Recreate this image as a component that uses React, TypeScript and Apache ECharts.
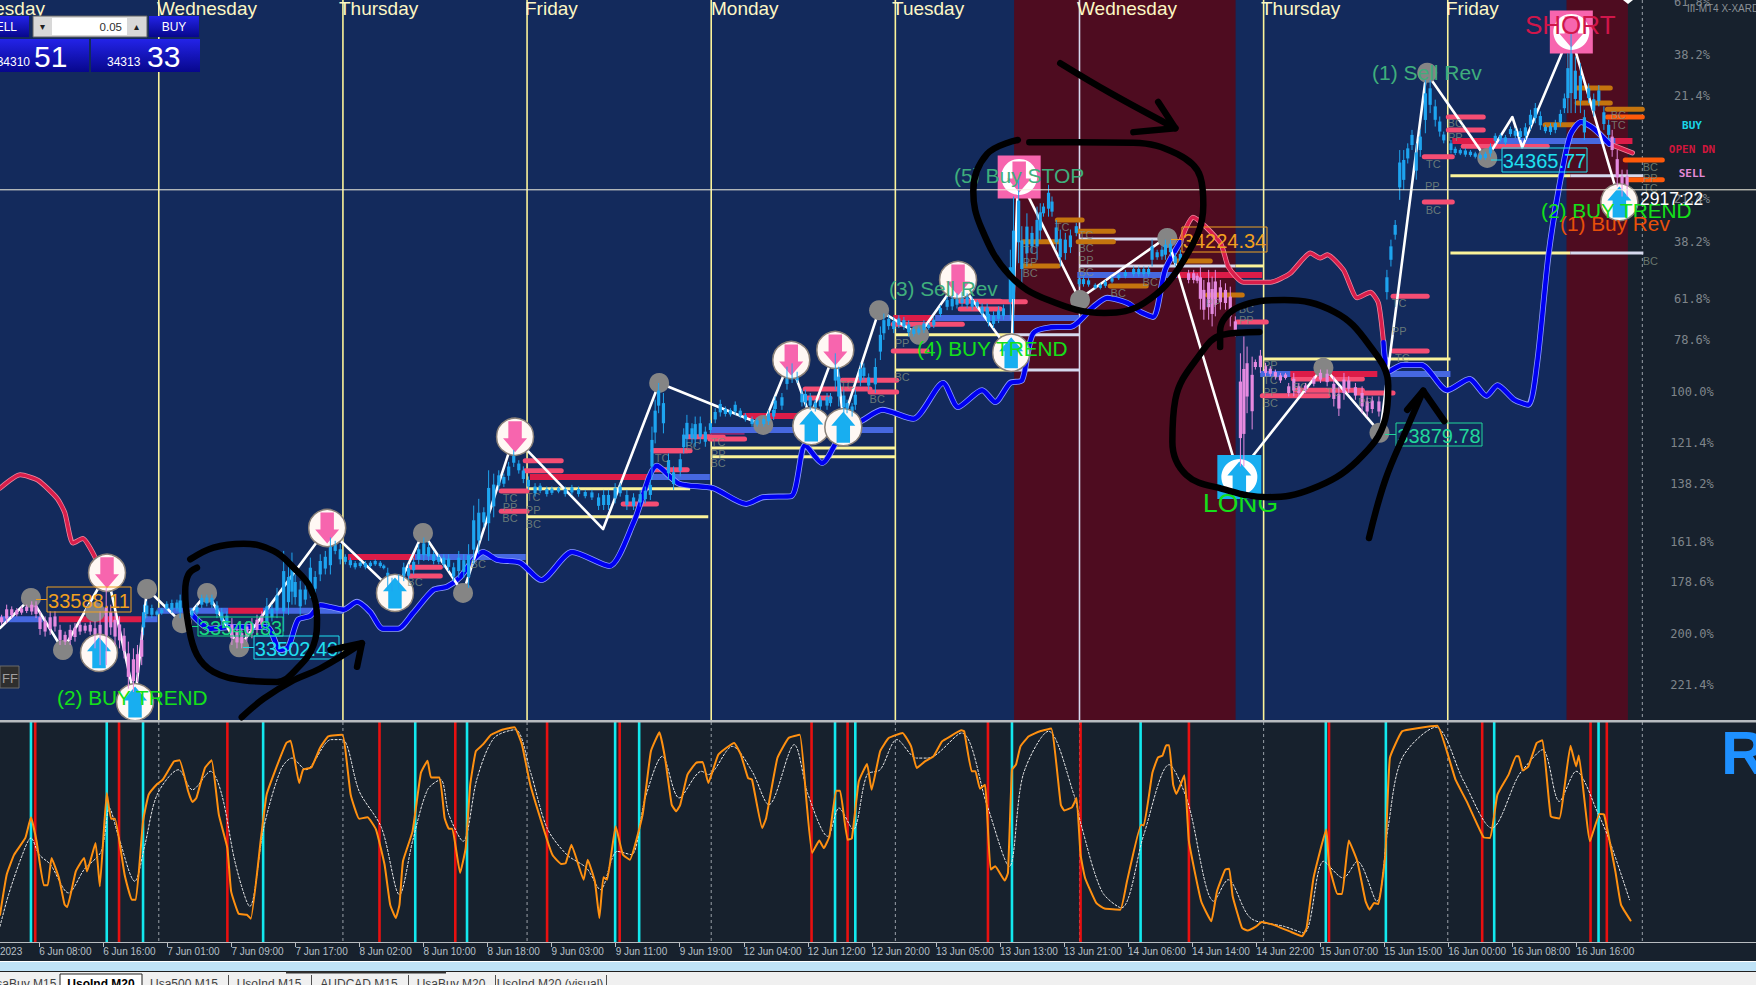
import React, { useEffect, useRef } from "react";
import * as echarts from "echarts";

type P = [number, number];
type Seg = [number, number, number];
type Cdl = [number, number, number];

const dayBars = [59.5, 128.5, 197.5, 266.5, 335.5, 404.5, 473.5, 542.5];
const endBar = 615.4;
const blueZone: P[] = [[0, 610]];
const redZones: P[] = [[380, 463], [587, 610]];
const crossPrice = 34321;

const dayNames = ["Tuesday", "Wednesday", "Thursday", "Friday", "Monday", "Tuesday", "Wednesday", "Thursday", "Friday"];

const redMaA: P[] = [[0, 33788], [7.6, 33812], [14.3, 33802], [21.4, 33770], [24.3, 33744], [27.3, 33690], [31, 33698], [35.7, 33664]];
const redMaB: P[] = [[442.3, 34228], [447, 34272], [457.3, 34226], [460.3, 34183], [465.9, 34156], [476, 34156], [483.5, 34172], [491, 34208], [494.7, 34199], [497.3, 34205], [503.4, 34178], [508.6, 34128], [513.5, 34138], [516.5, 34119], [518.4, 34049]];
const redMaC: P[] = [[603, 34403], [611.7, 34387]];
const blueMaA: P[] = [[72, 33562], [78.7, 33537], [86.2, 33540], [100, 33540], [105, 33499], [108, 33504], [111.7, 33553], [116.2, 33560], [120, 33579], [123.7, 33576], [128.6, 33571], [133.8, 33585], [138.7, 33567], [143.5, 33537], [149.2, 33537], [154.8, 33565], [162.3, 33606], [167.5, 33612], [172.4, 33629], [177.3, 33660], [181, 33674], [186.3, 33660], [194.9, 33655], [202.8, 33624], [214.4, 33674], [228.3, 33649], [237.6, 33729], [246.2, 33828], [254.5, 33796], [267.2, 33788], [279.6, 33760], [286, 33772], [296.5, 33774], [301.7, 33865], [308, 33833], [315.6, 33887], [323.5, 33910], [330.6, 33928], [342.2, 33912], [353.4, 33976], [359, 33933], [368, 33963], [372.9, 33942], [378.5, 33976], [383, 33981], [387.2, 34065], [396.2, 34076], [401, 34076], [409.7, 34112], [414.9, 34128], [422.4, 34119], [427.3, 34103], [432.1, 34094], [436.6, 34178], [442.3, 34228]];
const blueMaB: P[] = [[518.4, 34049], [520.2, 33996], [525.5, 34008], [532.6, 34008], [542.3, 33963], [550.6, 33983], [557, 33953], [561.1, 33972], [567.4, 33946], [572.7, 33937], [576, 34012], [580.2, 34203], [584.3, 34328], [588.4, 34419], [592.5, 34442], [597, 34431], [603, 34403]];

const zigzag: P[] = [[0, 33538], [11.6, 33592], [23.6, 33499], [40.1, 33637], [50.6, 33410], [55.1, 33608], [68.2, 33547], [77.6, 33601], [89.6, 33504], [122.6, 33717], [148, 33601], [158.5, 33708], [173.5, 33601], [192.6, 33880], [226, 33715], [247, 33976], [286, 33901], [296, 34017], [303.6, 33915], [313, 34035], [316, 33910], [329.4, 34106], [344.4, 34062], [359, 34160], [379, 34028], [381.5, 34346], [404.4, 34126], [437.4, 34237], [464, 33813], [495.9, 34005], [517.2, 33887], [520, 33994], [534.5, 34530], [557, 34376], [566.7, 34451], [570.4, 34397], [588.4, 34601], [606.4, 34308]];
const greyPivots: P[] = [[11.6, 33592], [23.6, 33499], [35.6, 33567], [55.1, 33608], [68.2, 33547], [77.6, 33601], [89.6, 33504], [158.5, 33708], [173.5, 33601], [247, 33976], [286, 33901], [329.4, 34106], [344.4, 34062], [404.7, 34124], [437.4, 34235], [495.9, 34003], [516.9, 33887], [534.8, 34530], [557.3, 34378]];
const sellRound: P[] = [[40.1, 33637], [122.6, 33717], [193, 33880], [296.5, 34017], [313, 34035], [359, 34160]];
const buyRound: P[] = [[37.1, 33494], [50.6, 33406], [148, 33601], [304, 33899], [316, 33897], [378.9, 34030], [606.8, 34299]];
const sellSquare: P[] = [[381.9, 34344], [588.8, 34603]];
const buySquare: P[] = [[464.4, 33808]];

const crimsonLevels: Seg[] = [[22, 53, 33554], [85.5, 98.6, 33569], [130.4, 155.5, 33665], [198.6, 242.9, 33808], [278.5, 299.8, 33917], [334.7, 349.7, 34092], [408.5, 473, 34169], [482.7, 516.1, 33992], [544.2, 561, 34408], [561, 611.7, 34408]];
const blueLevels: Seg[] = [[0, 16, 33554], [54, 59, 33554], [59, 85.5, 33569], [98.6, 128.6, 33569], [155.5, 197, 33665], [242.9, 266, 33808], [266, 334.7, 33892], [350.4, 404.4, 34092], [403.7, 441.1, 34169], [472.2, 483.5, 33992], [520.2, 543.5, 33992], [561, 605.3, 34408]];
const pinkLevels: Seg[] = [[153.7, 165, 33647], [153.7, 165, 33631], [187.8, 197.5, 33783], [187.8, 197.5, 33747], [196.8, 210.3, 33837], [196.8, 210.3, 33819], [245, 257.5, 33855], [245, 257.5, 33821], [233.5, 246, 33760], [257.5, 271, 33880], [244.7, 258.6, 33855], [266, 279, 33876], [301.7, 326, 33965], [301.7, 311, 33949], [315.6, 336, 33981], [326, 336, 33960], [334.7, 360.6, 34081], [334.7, 347.4, 34033], [359.8, 374.8, 34108], [359.8, 374.8, 34122], [367.3, 384.2, 34121], [463.6, 474.5, 34085], [484.6, 510.5, 33983], [485.4, 510.5, 33963], [473, 497.7, 33953], [508.6, 522, 33958], [522, 534.8, 34131], [522, 534.8, 34033], [533.7, 544.2, 34380], [533.7, 544.2, 34299], [542.7, 555.8, 34451], [542.7, 555.8, 34428], [548.3, 579.8, 34399]];
const darkPink: Seg[] = [[266, 279, 33887]];
const orangeLevels: Seg[] = [[396.2, 405.5, 34267], [383.4, 396.5, 34228], [383.4, 396.5, 34185], [404, 417.2, 34247], [404, 417.2, 34228], [416, 429.5, 34149], [441.1, 453.5, 34194], [452.4, 465.5, 34133], [579, 591, 34437], [591, 603.4, 34503], [591, 603.4, 34476], [602.3, 615.4, 34465]];
const hotOrange: Seg[] = [[602.3, 615.4, 34451], [609, 622.9, 34374], [610.2, 622.9, 34339]];
const yellowLevels: Seg[] = [[197.5, 258.6, 33787], [197.5, 265.4, 33737], [266.5, 335.4, 33860], [266.5, 335.4, 33844], [335.4, 380, 34062], [335.4, 380, 33999], [473.5, 543.5, 34019], [462.9, 473.5, 34185], [543.5, 588.4, 34346], [543.5, 588.4, 34208]];
const paleLevels: Seg[] = [[380, 404.4, 34062], [380, 404.4, 33999], [404.4, 441.1, 34233], [404.4, 462.9, 34185], [588.4, 615.8, 34346], [588.4, 615.8, 34208]];

const upCandles: Cdl[] = [
  [53.8, 33526, 33580], [55, 33556, 33586], [56.9, 33556, 33580], [58.8, 33559, 33571], [60.6, 33562, 33574], [62.5, 33568, 33586], [64.4, 33565, 33589], [66.3, 33568, 33589], [67.5, 33556, 33598], [71.9, 33556, 33574], [73.8, 33562, 33580], [75.6, 33574, 33598], [77.5, 33577, 33598], [79.4, 33574, 33598], [81.3, 33556, 33586], [83.1, 33544, 33574], [85, 33538, 33568],
  [100, 33532, 33592], [101.9, 33550, 33580], [103.8, 33556, 33610], [106.3, 33532, 33676], [108.1, 33562, 33652], [109.4, 33580, 33673], [110.6, 33580, 33634], [112.5, 33562, 33622], [114.4, 33580, 33616], [116.3, 33592, 33664], [118.1, 33598, 33640], [120, 33622, 33670], [121.9, 33634, 33676], [123.8, 33634, 33700], [125.6, 33670, 33694], [127.5, 33652, 33688], [129.4, 33652, 33670], [131.3, 33646, 33664], [133.1, 33643, 33658], [135, 33646, 33658], [136.9, 33643, 33658], [138.8, 33646, 33658], [140.6, 33649, 33661], [142.5, 33646, 33658], [143.8, 33643, 33652], [145.3, 33610, 33646], [146.9, 33604, 33628], [149.4, 33607, 33634], [151.3, 33622, 33655], [153.1, 33625, 33652], [155, 33634, 33664], [156.9, 33652, 33688], [158.8, 33658, 33700], [160.6, 33658, 33691], [162.5, 33652, 33676], [164.4, 33652, 33670], [166.3, 33646, 33670], [168.1, 33640, 33670], [170, 33622, 33655], [171.9, 33628, 33676], [173.8, 33628, 33670], [175.6, 33610, 33688], [177.5, 33652, 33757], [179.4, 33670, 33769], [181.3, 33718, 33754], [183.1, 33694, 33820], [185, 33736, 33814], [186.9, 33784, 33820], [188.8, 33790, 33814], [190.6, 33802, 33835], [192.5, 33826, 33856], [194.4, 33814, 33838],
  [196.1, 33797, 33827], [198, 33785, 33809], [200.5, 33773, 33797], [202.4, 33779, 33797], [204.9, 33773, 33791], [206.8, 33776, 33791], [209.3, 33779, 33791], [211.8, 33773, 33791], [214.3, 33776, 33794], [216.8, 33773, 33791], [219.3, 33770, 33785], [221.8, 33767, 33785], [224.3, 33749, 33779], [226.2, 33749, 33785], [228, 33749, 33785], [230.5, 33761, 33797], [232.4, 33773, 33797], [234.9, 33749, 33785], [237.4, 33749, 33779], [239.9, 33755, 33785], [241.8, 33761, 33791], [243.7, 33767, 33803], [244.3, 33803, 33898], [245.5, 33868, 33946], [246.8, 33922, 33976], [248.6, 33886, 33958], [250.5, 33803, 33850], [252.4, 33785, 33827], [254.9, 33809, 33850], [256.2, 33850, 33895], [257.4, 33862, 33919], [259.3, 33868, 33904], [260.5, 33862, 33916], [262.4, 33868, 33916], [264.3, 33862, 33898], [266.2, 33886, 33910], [268, 33904, 33931], [269.9, 33916, 33946], [271.8, 33916, 33934], [273.7, 33916, 33931], [275.5, 33919, 33943], [277.4, 33913, 33931], [279.3, 33907, 33922], [281.8, 33898, 33916], [283.7, 33898, 33913], [286.2, 33898, 33916], [288, 33901, 33928], [289.9, 33910, 33934], [290.5, 33922, 33952], [293, 33928, 33958], [294.9, 33964, 34005], [296.8, 33976, 34011], [298.7, 33976, 33996], [300.5, 33934, 33964], [301.8, 33934, 33964], [303.6, 33928, 33958], [305.5, 33925, 33946], [307.4, 33928, 33952], [309.9, 33928, 33958], [311.2, 33934, 33958], [313, 33964, 34029], [314.3, 33934, 34005], [316.2, 33922, 33964], [317.4, 33922, 33946], [319.3, 33916, 33940], [320.5, 33928, 33964], [322.4, 33970, 34011], [323.7, 33981, 34011], [325.5, 33964, 33993], [328, 33958, 34020], [329.9, 34017, 34077], [331.2, 34053, 34100], [333, 34071, 34097], [334.9, 34065, 34094], [336.8, 34074, 34097], [338.7, 34071, 34094], [340.5, 34059, 34088], [342.4, 34059, 34077], [344.3, 34062, 34077], [346.2, 34065, 34088], [348, 34071, 34083], [349.9, 34074, 34094], [352.4, 34094, 34115], [354.9, 34106, 34130], [356.8, 34106, 34133], [358.6, 34109, 34136], [360.5, 34112, 34139], [362.4, 34109, 34136], [364.3, 34106, 34130], [366.2, 34109, 34124], [368, 34094, 34118], [369.9, 34089, 34118],
  [370.4, 34077, 34107], [372.3, 34074, 34104], [374.2, 34083, 34113], [376, 34089, 34116], [378.6, 34089, 34214], [379.8, 34065, 34309], [381.7, 34190, 34339], [382.9, 34154, 34256], [384.8, 34184, 34279], [386.7, 34208, 34256], [388.6, 34196, 34291], [389.8, 34232, 34297], [391, 34273, 34297], [392.9, 34273, 34330], [394.2, 34273, 34309], [395.8, 34214, 34267], [397.3, 34184, 34250], [399.2, 34196, 34244], [401.1, 34208, 34250], [403.3, 34238, 34262], [404.4, 34148, 34166], [406, 34148, 34166], [407.9, 34148, 34163], [410.4, 34143, 34154], [412.3, 34143, 34154], [414.2, 34146, 34160], [416.7, 34154, 34166], [419.2, 34160, 34172], [421.7, 34163, 34178], [424.8, 34166, 34184], [426.7, 34166, 34184], [428.6, 34166, 34184], [430.4, 34166, 34184], [431.7, 34184, 34232], [433.6, 34196, 34214], [435.4, 34196, 34220], [436.7, 34196, 34232], [438.6, 34202, 34232], [440.4, 34184, 34208], [442.3, 34184, 34214],
  [519.7, 34125, 34178], [521.2, 34184, 34232], [522.8, 34232, 34267], [524.5, 34303, 34392], [526, 34321, 34392], [527.5, 34368, 34404], [529.1, 34392, 34428], [530.7, 34339, 34404], [532.2, 34380, 34428], [534.1, 34422, 34517], [535.9, 34458, 34517], [537.8, 34434, 34482], [539.5, 34416, 34452], [541, 34404, 34425], [543.7, 34386, 34410], [545.3, 34383, 34398], [547.2, 34383, 34395], [549.1, 34380, 34395], [551, 34380, 34392], [552.8, 34377, 34389], [554.7, 34374, 34386], [556.6, 34374, 34389], [558.5, 34380, 34404], [560.3, 34404, 34422], [562.2, 34407, 34422], [564.1, 34401, 34419], [566, 34416, 34434], [567.8, 34413, 34431], [569.7, 34410, 34431], [571.6, 34410, 34440], [573.5, 34428, 34464], [575.3, 34440, 34476], [577.2, 34428, 34461], [579.1, 34422, 34437], [581, 34419, 34440], [582.8, 34422, 34446], [584.7, 34434, 34464], [586.2, 34458, 34493], [587.5, 34458, 34565], [588.7, 34458, 34601], [590.3, 34458, 34559], [592.2, 34458, 34547], [593.7, 34410, 34464], [595.3, 34476, 34511], [597.2, 34452, 34493], [599.1, 34470, 34508], [601, 34428, 34470], [602.8, 34410, 34446],
];
const downCandles: Cdl[] = [
  [0.6, 33544, 33562], [2.5, 33547, 33580], [4.4, 33556, 33577], [6.3, 33559, 33574], [8.1, 33562, 33577], [10, 33565, 33580], [11.9, 33562, 33586], [13.5, 33556, 33586], [15, 33526, 33568], [16.9, 33523, 33559], [18.8, 33526, 33568], [20.6, 33532, 33568], [22.5, 33508, 33544], [24.4, 33508, 33532], [26.3, 33508, 33544], [28.1, 33514, 33547], [30, 33526, 33550], [31.9, 33529, 33547], [33.8, 33526, 33550], [35.6, 33502, 33550], [37.5, 33472, 33568], [39.8, 33472, 33610], [41.5, 33526, 33580], [43.1, 33508, 33568], [44.8, 33502, 33559], [46.5, 33484, 33538], [48.1, 33430, 33514], [50, 33424, 33502], [51.5, 33442, 33508], [53.1, 33472, 33532],
  [86.9, 33508, 33556], [88.8, 33502, 33544], [90.6, 33502, 33538], [92.5, 33514, 33550], [94.4, 33520, 33556], [96.3, 33526, 33562], [98.1, 33538, 33568],
  [445.4, 34154, 34178], [447.3, 34154, 34178], [448.6, 34154, 34172], [449.8, 34107, 34184], [451.1, 34089, 34160], [452.9, 34089, 34178], [454.2, 34077, 34166], [455.4, 34095, 34178], [457.3, 34107, 34160], [459.2, 34107, 34154], [461, 34077, 34148], [462.9, 34059, 34095], [464.8, 33827, 34029], [466.1, 33827, 34059], [467.3, 33922, 34041], [469.2, 33893, 34023], [470.4, 34000, 34018], [472.3, 33994, 34035], [474.2, 33988, 34012], [476, 33988, 34006], [477.9, 33982, 34000], [479.8, 33976, 33994], [481.7, 33982, 33994], [482.9, 33952, 33976], [484.8, 33952, 33994], [486.7, 33952, 33976], [489.2, 33958, 33976], [492.3, 33970, 33988], [494.8, 33976, 34000], [497.3, 33970, 34000], [499.8, 33934, 33988], [501.7, 33917, 33970], [503.6, 33946, 33994], [505.4, 33958, 33988], [507.9, 33946, 33976], [510.4, 33922, 33970], [512.3, 33916, 33952], [514.2, 33922, 33952], [516.7, 33916, 33952],
  [604.1, 34380, 34428], [606, 34327, 34392], [607.8, 34309, 34357], [609.7, 34309, 34357],
];

const pivotText: [number, number, string][] = [[191.1, 33771, "TC"], [191.1, 33755, "PP"], [191.1, 33735, "BC"], [199.8, 33772, "TC"], [199.8, 33749, "PP"], [199.8, 33724, "BC"], [248.1, 33842, "TC"], [259.7, 33863, "BC"], [269.1, 33871, "TC"], [269.1, 33849, "PP"], [269.1, 33833, "BC"], [155.5, 33621, "BC"], [179.2, 33653, "BC"], [338, 33987, "BC"], [338, 34047, "PP"], [328.7, 33947, "BC"], [317.5, 33972, "TC"], [386, 34213, "TC"], [386, 34192, "PP"], [386, 34172, "BC"], [398, 34255, "TC"], [407, 34240, "TC"], [407, 34217, "BC"], [407, 34196, "PP"], [407, 34174, "BC"], [419, 34137, "BC"], [431, 34156, "BC"], [454.6, 34119, "PP"], [467, 34108, "BC"], [467, 34088, "PP"], [476, 34008, "PP"], [476, 33981, "TC"], [476, 33960, "PP"], [476, 33940, "BC"], [487.2, 33969, "BC"], [499.6, 33960, "TC"], [511.6, 33942, "PP"], [537.1, 34367, "TC"], [536.7, 34328, "PP"], [537.1, 34285, "BC"], [524.3, 34119, "TC"], [524.3, 34069, "PP"], [525.5, 34021, "TC"], [545.3, 34440, "BC"], [545.3, 34415, "PP"], [606.4, 34455, "BC"], [606.4, 34437, "TC"], [618.4, 34362, "BC"], [618.4, 34342, "PP"], [618.4, 34324, "TC"], [618.4, 34194, "BC"]];

const penCircleA: P[] = [[71.3, 33661], [80, 33682], [91.3, 33689], [102.5, 33676], [110, 33646], [116.3, 33610], [118.8, 33556], [117.5, 33508], [111.3, 33466], [103.8, 33442], [91.3, 33445], [80, 33460], [73.8, 33490], [70.6, 33544], [69.4, 33604], [70.6, 33634], [73.8, 33646]];
const penArrowA: P[] = [[90.6, 33379], [98.8, 33412], [110, 33445], [120, 33466], [135.6, 33511]];
const penHeadA: P[] = [[123.8, 33499], [135.6, 33511], [133.8, 33469]];
const penCircleB: P[] = [[381.4, 34410], [369.9, 34385], [364.7, 34319], [367.7, 34253], [378.2, 34169], [392.8, 34124], [413.8, 34101], [428.8, 34119], [443.4, 34194], [450.9, 34294], [449.8, 34344], [441.1, 34385], [424.7, 34405], [403.3, 34406], [385.7, 34406]];
const penArrowB: P[] = [[397.3, 34547], [416, 34494], [440.4, 34431]];
const penHeadB: P[] = [[434, 34478], [440.4, 34431], [424.7, 34424]];
const penCircleC: P[] = [[471.9, 34067], [458, 34062], [449.8, 34028], [440.4, 33946], [439.3, 33871], [444.5, 33812], [458, 33787], [474.9, 33772], [491.7, 33787], [508.6, 33837], [519.1, 33912], [520.2, 33971], [512.7, 34046], [500, 34103], [481.2, 34124], [464.4, 34112], [457.2, 34069], [457.2, 34040]];
const penArrowC: P[] = [[513, 33699], [519.1, 33803], [527.3, 33896], [533.3, 33962]];
const penHeadC: P[] = [[527.3, 33928], [533.3, 33962], [541.2, 33908]];

const stochMain: P[] = [[0, 12.4], [2.5, 30.6], [5.3, 39.7], [9.5, 47.3], [11.6, 56.7], [13.7, 45.8], [16.4, 25.8], [17.9, 25.8], [19.3, 38.2], [22.1, 29.1], [24.2, 17], [25.2, 15.9], [28.4, 32.1], [31.5, 38.2], [32.6, 32.1], [35.8, 45], [37.4, 25.3], [40, 67.7], [41.6, 56], [43.1, 56], [46.7, 30.6], [49.4, 19.2], [50.9, 19.2], [53.6, 54.8], [55.7, 67], [58.9, 71.8], [61, 73.8], [65.2, 82.1], [67.3, 82.6], [70.5, 68.5], [72.1, 63.6], [73.6, 65.5], [76.8, 79.1], [79.3, 82.6], [82, 57.9], [85.2, 42.7], [86.6, 23], [89.4, 12.9], [92.5, 12.4], [94, 10.6], [97.8, 47.3], [99.9, 67], [103, 77.6], [107.3, 90.5], [108.9, 91.5], [112.1, 72.3], [113.6, 78.3], [116.7, 79.4], [119.9, 88.2], [123, 93.5], [128.3, 94.2], [131.4, 67], [134.6, 56], [137.7, 56.7], [140.9, 51.1], [144.1, 35.2], [146.2, 17], [148.3, 10.9], [149.7, 17], [151, 36.7], [154.6, 50.3], [157.7, 76.8], [160.2, 82.4], [161.5, 74.8], [164.7, 74.8], [166.6, 56.4], [168.2, 51.5], [169.5, 51.5], [172.4, 31.4], [174.5, 42.7], [176.2, 71.5], [178.3, 86.7], [180.9, 89.7], [184, 94.2], [188.2, 96.5], [192.8, 97.6], [195.6, 89.7], [198.7, 71.5], [205, 46.5], [207.1, 39.4], [210.3, 35.5], [212, 35.9], [214.1, 44.2], [218.7, 28.3], [220.2, 37.4], [222.9, 27.6], [224.6, 10.9], [226.1, 29.4], [227.5, 28.3], [230.7, 52.6], [233.4, 39.7], [236, 37.4], [240.8, 57.9], [243.9, 86.7], [247.1, 95.3], [249.2, 83.6], [251.7, 62.4], [253.4, 59.4], [254.9, 62.4], [257.6, 76.1], [260.8, 81.4], [263.3, 81.8], [265.4, 72.3], [269.2, 85.2], [275.1, 90.5], [277.6, 85.2], [280.3, 74.5], [281.8, 73.8], [285.6, 51.8], [287.1, 56.4], [291.3, 83.6], [295.5, 92.7], [299.7, 94.2], [302.2, 63.9], [304.3, 40.5], [307, 46.1], [308.7, 42.7], [310.8, 48], [313.3, 68.8], [314.8, 68.8], [317.6, 46.5], [319.2, 47], [321.8, 73], [324.9, 80.9], [326.6, 69.2], [329.8, 86.7], [333, 92.7], [338.2, 95], [341.4, 88.9], [343.5, 79.1], [346.6, 82.1], [349.8, 84.4], [353, 91.2], [356.1, 93.5], [360.3, 96.2], [361.3, 95.8], [364.1, 77.6], [365.5, 77.6], [367.2, 69.7], [369.1, 71.5], [369.8, 60.9], [371.2, 32.9], [372.9, 34.4], [376.5, 27.9], [377.7, 31.4], [379.2, 78.3], [380.7, 80.6], [382.4, 88.9], [385.5, 93.5], [389.7, 95.8], [393.9, 97], [397.5, 62.4], [398.8, 59.8], [401.7, 61.2], [403.4, 65.5], [404.9, 39.7], [406.6, 29.1], [410.8, 17.7], [413.9, 15.2], [419.8, 14.7], [422.3, 27.6], [427.6, 53.3], [428.6, 53], [431.8, 76.8], [433.9, 83.9], [435.6, 84.7], [437, 89.4], [438.1, 89.4], [439.6, 71.5], [440.8, 67.3], [443.8, 75.8], [445.5, 45.8], [450.1, 18.5], [453.9, 9.4], [456, 23], [459.1, 32.9], [460.6, 33.3], [461.9, 20.8], [465.4, 6.4], [467.5, 5.2], [470.7, 7.1], [472.8, 9.1], [477, 7.9], [483.3, 4.8], [487.9, 2.6], [489.6, 6.4], [492.2, 29.1], [497, 51.1], [498, 35.2], [501.2, 21.8], [502.9, 21.8], [505.4, 46.1], [508.6, 36.7], [511.7, 18.5], [513.2, 14.7], [514.9, 17.7], [516.5, 17.3], [519.1, 39.7], [520.8, 83.6], [525.4, 95.8], [531.7, 97.3], [538.6, 98.3], [543.3, 82.1], [545.4, 73.8], [549.6, 63.9], [555.9, 47.6], [558.4, 47.3], [561.1, 67], [565.3, 76.1], [568.1, 84.4], [569.1, 84.4], [570.6, 77.9], [572.7, 79.8], [575.8, 90.5], [578, 91.7], [581.1, 57.1], [584.3, 56.1], [588.5, 89.2], [590.6, 79.8], [591.6, 84.8], [595.8, 45.8], [599.4, 58.2], [601.1, 57.9], [605.3, 32.1], [607.4, 17], [611, 9.8]];
const stochSignal: P[] = [[0, 7.1], [3.2, 21.5], [8.4, 39.7], [11.6, 47.3], [14.7, 39.7], [18.9, 35.2], [25.7, 22.3], [31.5, 32.9], [37.9, 41.2], [41, 60.9], [44.2, 48.8], [50.5, 27.6], [54.3, 44.2], [58.9, 67], [66.9, 78.3], [72.1, 69.2], [78.9, 77.6], [83.1, 67], [88.3, 35.2], [93.6, 16.2], [98.8, 51.8], [105.2, 78.3], [109.4, 83.6], [114.6, 78.3], [124.1, 92], [128.3, 92], [134.6, 68.5], [143, 51.8], [149.7, 21.5], [154.6, 45.8], [160.2, 69.2], [165.1, 73.8], [168.2, 57.9], [173.5, 45.8], [178.8, 74.5], [185.1, 92.7], [193.1, 96.5], [198.7, 77.6], [205, 51.8], [212.4, 39.7], [219.8, 33.6], [225, 23.8], [231.3, 41.2], [236.6, 39.7], [241.8, 65.5], [248.2, 84.4], [254.5, 65.5], [262.9, 77.6], [265.4, 76.1], [274.4, 88.9], [281.8, 77.6], [288.1, 62.4], [297.6, 89.7], [302.8, 67], [310.2, 48], [314.4, 60.9], [319.7, 51.1], [324.9, 76.1], [329.8, 78.3], [336.1, 92], [343.5, 83.6], [347.7, 83.6], [360.3, 95], [369.8, 62.4], [378.2, 34.4], [383.4, 76.1], [392.9, 95.8], [402.4, 67], [405.1, 53.3], [412.9, 23], [420.2, 15.5], [428.6, 48.8], [438.1, 80.6], [445, 63.9], [454.9, 18.5], [460.2, 28.3], [468.6, 10.9], [481.2, 7.1], [488.6, 4.1], [496, 36.7], [503.3, 29.1], [508.6, 36.7], [515.9, 18.5], [520.1, 51.8], [525.4, 83.6], [538, 97.6], [548.5, 73], [559, 51.8], [568.5, 74.5], [570.6, 78.3], [578, 87.4], [584.3, 63.9], [590.6, 77.6], [599, 57.9], [603.2, 45.8], [610.6, 19.2]];
const cyanSignals = [11.6, 40, 53.6, 98.6, 155.6, 175, 230.5, 239.5, 312.9, 320.5, 379.2, 427.4, 496.8, 519.3, 559.9, 599];
const redSignals = [13.2, 44.6, 85.2, 142.2, 170.6, 205, 232.2, 304.1, 317.6, 370.2, 404.9, 445.5, 498, 555.4, 596, 602.1];

const timeTicks = ["6 Jun 08:00", "6 Jun 16:00", "7 Jun 01:00", "7 Jun 09:00", "7 Jun 17:00", "8 Jun 02:00", "8 Jun 10:00", "8 Jun 18:00", "9 Jun 03:00", "9 Jun 11:00", "9 Jun 19:00", "12 Jun 04:00", "12 Jun 12:00", "12 Jun 20:00", "13 Jun 05:00", "13 Jun 13:00", "13 Jun 21:00", "14 Jun 06:00", "14 Jun 14:00", "14 Jun 22:00", "15 Jun 07:00", "15 Jun 15:00", "16 Jun 00:00", "16 Jun 08:00", "16 Jun 16:00"];
const tickBars = timeTicks.map((_, i) => 14.7 + 24 * i);
const fibLabels: [string, number][] = [["61.8%", 2], ["38.2%", 55], ["21.4%", 96], ["21.4%", 199], ["38.2%", 242], ["61.8%", 299], ["78.6%", 340], ["100.0%", 392], ["121.4%", 443], ["138.2%", 484], ["161.8%", 542], ["178.6%", 582], ["200.0%", 634], ["221.4%", 685]];
const tabNames: [string, number, boolean][] = [["UsaBuy M15", 22, false], ["UsoInd M20", 101, true], ["Usa500 M15", 184, false], ["UsoInd M15", 269, false], ["AUDCAD M15", 359, false], ["UsaBuy M20", 451, false], ["UsoInd M20 (visual)", 550, false]];
const tabDividers = [228, 311, 408, 495, 606];

const ARROW_DOWN = "path://M22 0H78V55H100L50 100L0 55H22Z";
const ARROW_UP = "path://M50 0L100 45H78V100H22V45H0Z";
const SANS = '"Liberation Sans", Arial, sans-serif';
const MONO = '"DejaVu Sans Mono", monospace';

function segs(data: Seg[], color: string, width: number, z: number, cap: string = "round") {
  return {
    type: "custom", xAxisIndex: 0, yAxisIndex: 0, z, silent: true, data,
    encode: { x: [0, 1], y: 2 },
    renderItem: (_: any, api: any) => {
      const a = api.coord([api.value(0), api.value(2)]);
      const b = api.coord([api.value(1), api.value(2)]);
      return { type: "line", shape: { x1: a[0], y1: a[1], x2: b[0], y2: b[1] }, style: { stroke: color, lineWidth: width, lineCap: cap } };
    },
  };
}
function zones(data: P[], color: string, z: number) {
  return {
    type: "custom", xAxisIndex: 0, yAxisIndex: 0, z, silent: true, data,
    encode: { x: [0, 1] },
    renderItem: (p: any, api: any) => {
      const a = api.coord([api.value(0), 34000]);
      const b = api.coord([api.value(1), 34000]);
      return { type: "rect", shape: { x: a[0], y: p.coordSys.y, width: b[0] - a[0], height: p.coordSys.height }, style: { fill: color } };
    },
  };
}
function vlines(bars: number[], color: string, width: number, z: number, grid: number, dash?: number[]) {
  return {
    type: "custom", xAxisIndex: grid, yAxisIndex: grid, z, silent: true, data: bars.map((b) => [b]),
    encode: { x: 0 },
    renderItem: (p: any, api: any) => {
      const x = api.coord([api.value(0), grid === 0 ? 34000 : 50])[0];
      return { type: "line", shape: { x1: x, y1: p.coordSys.y, x2: x, y2: p.coordSys.y + p.coordSys.height }, style: { stroke: color, lineWidth: width, lineDash: dash } };
    },
  };
}
function wicks(data: Cdl[], color: string, z: number) {
  return {
    type: "custom", xAxisIndex: 0, yAxisIndex: 0, z, silent: true, data,
    encode: { x: 0, y: [1, 2] },
    renderItem: (_: any, api: any) => {
      const a = api.coord([api.value(0), api.value(1)]);
      const b = api.coord([api.value(0), api.value(2)]);
      return { type: "line", shape: { x1: a[0], y1: a[1], x2: b[0], y2: b[1] }, style: { stroke: color, lineWidth: 1 } };
    },
  };
}
function bodies(data: Cdl[], color: string, z: number) {
  return {
    type: "custom", xAxisIndex: 0, yAxisIndex: 0, z, silent: true, data,
    encode: { x: 0, y: [1, 2] },
    renderItem: (_: any, api: any) => {
      const lo = api.value(1), hi = api.value(2), q = (hi - lo) / 4;
      const a = api.coord([api.value(0), hi - q]);
      const b = api.coord([api.value(0), lo + q]);
      return { type: "rect", shape: { x: a[0] - 1.6, y: a[1], width: 3.2, height: Math.max(1, b[1] - a[1]) }, style: { fill: color } };
    },
  };
}
function line(data: P[], color: string, width: number, z: number, grid = 0, smooth: number | boolean = false, dash?: any) {
  return {
    type: "line", xAxisIndex: grid, yAxisIndex: grid, data, z, silent: true, showSymbol: false, symbol: "none", smooth,
    lineStyle: { color, width, type: dash || "solid", cap: "round", join: "round" },
  };
}
function marks(data: P[], symbol: string, size: any, color: string, z: number, border?: string) {
  return {
    type: "scatter", xAxisIndex: 0, yAxisIndex: 0, data, z, silent: true, symbol, symbolSize: size,
    itemStyle: { color, opacity: 1, borderColor: border || "transparent", borderWidth: border ? 1.5 : 0 },
  };
}
function txt(text: string, x: number, y: number, fill: string, font: string, align = "left", z = 7) {
  return { type: "text", z, silent: true, style: { text, x, y, fill, font, textAlign: align, textVerticalAlign: "middle" } };
}
function box(x: number, y: number, w: number, h: number, fill: any, z = 7, stroke?: string, lw = 1) {
  return { type: "rect", z, silent: true, shape: { x, y, width: w, height: h }, style: { fill, stroke, lineWidth: lw } };
}
function priceBox(text: string, x: number, y: number, w: number, h: number, color: string) {
  return [
    box(x, y, w, h, "transparent", 7, color, 1),
    { type: "line", z: 7, silent: true, shape: { x1: x - 11, y1: y + h / 2, x2: x, y2: y + h / 2 }, style: { stroke: color, lineWidth: 1 } },
    txt(text, x + w / 2, y + h / 2 + 1, color, `20px ${SANS}`, "center"),
  ];
}

export default function App() {
  const ref = useRef<HTMLDivElement>(null);
  useEffect(() => {
    const chart = echarts.init(ref.current!, undefined, { renderer: "svg" });
    const green = "#15e01a", teal = "#3fae7c";
    const dayX = [45, 157, 339, 525, 711, 892, 1077, 1261, 1446];
    const panelGrad = () => new echarts.graphic.LinearGradient(0, 0, 0, 1, [{ offset: 0, color: "#2323e8" }, { offset: 1, color: "#07078c" }]);
    const graphic: any[] = [
      ...dayNames.map((d, i) => txt(d, dayX[i], 8, "#fdf7c4", `19px ${SANS}`, i === 0 ? "right" : "left", 6)),
      ...fibLabels.map(([t, y]) => txt(t, 1692, y, "#7f858b", `12px ${MONO}`, "center", 3)),
      txt("BUY", 1692, 125, "#19d6e6", `bold 11px ${MONO}`, "center"),
      txt("OPEN DN", 1692, 149, "#d0163c", `bold 11px ${MONO}`, "center"),
      txt("SELL", 1692, 173, "#e58ad8", `bold 11px ${MONO}`, "center"),
      txt("III-MT4 X-XARDFX", 1687, 8, "#8a9096", `10px ${SANS}`),
      { type: "polygon", z: 7, silent: true, shape: { points: [[1623, 0], [1633, 0], [1628, 4]] }, style: { fill: "#ffffff" } },
      txt("(2) BUY TREND", 57, 697, green, `20.8px ${SANS}`),
      txt("(3) Sell Rev", 889, 288, teal, `20.8px ${SANS}`),
      txt("(4) BUY TREND", 917, 348, green, `20.8px ${SANS}`),
      txt("(5) Buy STOP", 954, 175, teal, `21px ${SANS}`),
      txt("LONG", 1203, 503, green, `26.5px ${SANS}`),
      txt("SHORT", 1525, 25, "#d0164a", `26px ${SANS}`),
      txt("(1) Sell Rev", 1372, 72, teal, `21px ${SANS}`),
      txt("(2) BUY TREND", 1541, 210, green, `20.8px ${SANS}`),
      txt("(1) Buy Rev", 1560, 223, "#e8500a", `20.8px ${SANS}`),
      txt("2917:22", 1640, 199, "#ffffff", `17.5px ${SANS}`),
      ...priceBox("33588.11", 47, 587, 84, 25, "#f0a020"),
      ...priceBox("33540.83", 198, 617, 85, 19, "#18d880"),
      ...priceBox("33502.40", 254, 636, 85, 23, "#1fe0f0"),
      ...priceBox("34224.34", 1182, 227, 85, 25, "#f0a020"),
      ...priceBox("33879.78", 1396, 423, 86, 23, "#22d79a"),
      ...priceBox("34365.77", 1502, 148, 85, 24, "#1fe0f0"),
      box(0, 666, 19, 22, "#2e2e2e", 7, "#6a6a6a"),
      txt("FF", 2, 678, "#a0a0a0", `13px ${SANS}`),
      // trade panel
      box(0, 16, 29, 21, panelGrad(), 11),
      txt("SELL", 17, 26.5, "#ffffff", `12px ${SANS}`, "right", 12),
      box(33, 16, 114, 21, "#d8d8d8", 11, "#606060"),
      box(52, 18, 75, 17, "#ffffff", 11),
      txt("0.05", 122, 26.5, "#303030", `11.5px ${SANS}`, "right", 12),
      txt("▾", 42, 26.5, "#202020", `10px ${SANS}`, "center", 12),
      txt("▴", 136, 26.5, "#202020", `10px ${SANS}`, "center", 12),
      box(149, 16, 50, 21, panelGrad(), 11),
      txt("BUY", 174, 26.5, "#ffffff", `12px ${SANS}`, "center", 12),
      box(0, 39, 89, 33, panelGrad(), 11),
      box(91, 39, 109, 33, panelGrad(), 11),
      txt("34310", 30, 62, "#ffffff", `12px ${SANS}`, "right", 12),
      txt("51", 34, 56, "#ffffff", `30px ${SANS}`, "left", 12),
      txt("34313", 107, 62, "#ffffff", `12px ${SANS}`, "left", 12),
      txt("33", 147, 56, "#ffffff", `30px ${SANS}`, "left", 12),
      // oscillator extras
      box(0, 720, 1756, 2.5, "#b8bcc0", 8),
      txt("R", 1721, 752, "#1e90ff", `bold 62px ${SANS}`, "left", 8),
      txt("2023", 0, 951, "#b8c0c8", `10px ${SANS}`, "left", 8),
      // window chrome
      box(0, 962, 1756, 9, "#bfe2f6", 8),
      box(0, 961, 1756, 1, "#ffffff", 8),
      box(0, 971, 1756, 1, "#202020", 8),
      box(0, 972, 1756, 13, "#f0f0f0", 8),
      box(286, 971.5, 160, 2, "#303030", 9),
      box(60, 974, 82, 12, "#ffffff", 9, "#202020"),
      ...tabDividers.map((x) => box(x, 975, 1, 10, "#505050", 9)),
      ...tabNames.map(([t, x, on]) => txt(t, x, 984, on ? "#000000" : "#404040", `${on ? "bold " : ""}12px ${SANS}`, "center", 10)),
    ];
    const pen = (d: P[], smooth: number | boolean = 0.4) => line(d, "#000000", 6.5, 10, 0, smooth);

    chart.setOption({
      animation: false,
      backgroundColor: "#17212d",
      tooltip: { show: false },
      legend: { show: false },
      grid: [
        { left: 0, right: 0, top: 0, height: 720, containLabel: false },
        { left: 0, right: 0, top: 722, height: 220, containLabel: false },
      ],
      xAxis: [
        { type: "value", gridIndex: 0, min: 0, max: 658, show: false, splitLine: { show: false } },
        {
          type: "value", gridIndex: 1, min: 0, max: 658, splitLine: { show: false },
          axisLine: { show: true, onZero: false, lineStyle: { color: "#b8bcc0", width: 1 } },
          axisTick: { show: true, customValues: tickBars, length: 5, inside: false, lineStyle: { color: "#b8bcc0" } },
          axisLabel: {
            show: true, customValues: tickBars, color: "#b8c0c8", fontSize: 10, fontFamily: "Liberation Sans", align: "left", margin: 4, hideOverlap: false, showMinLabel: true, showMaxLabel: true,
            formatter: (v: number) => timeTicks[Math.round((v - 14.7) / 24)] ?? "",
          },
        },
      ],
      yAxis: [
        { type: "value", gridIndex: 0, min: 33374, max: 34660, show: false, splitLine: { show: false } },
        { type: "value", gridIndex: 1, min: 0, max: 100, show: false, splitLine: { show: false } },
      ],
      graphic: { elements: graphic },
      series: [
        zones(blueZone, "#132a5c", 0),
        zones(redZones, "#4e0c20", 0.5),
        vlines(dayBars.filter((_, i) => i !== 5), "#fbf39a", 1.6, 1, 0),
        vlines([dayBars[5]], "#d6d9ee", 1.6, 1, 0),
        vlines([endBar], "#9aa0a8", 1, 1, 0, [3, 3]),
        vlines([...dayBars, endBar], "#9aa0a8", 1, 1, 1, [3, 3]),
        segs(yellowLevels, "#fbf39a", 3, 2, "butt"),
        segs(paleLevels, "#d6d9ee", 3, 2, "butt"),
        segs(pinkLevels, "#f54d73", 5, 2.1),
        segs(darkPink, "#8a2a70", 4, 2.1, "butt"),
        segs(orangeLevels, "#c4740e", 5, 2.1),
        segs(hotOrange, "#ff5a0a", 5, 2.1),
        segs(crimsonLevels, "#dc1c48", 6, 2.2, "butt"),
        segs(blueLevels, "#4668e0", 6, 2.3, "butt"),
        line(redMaA, "#f08aa0", 5, 3, 0, 0.2), line(redMaA, "#d81e4b", 3.5, 3.1, 0, 0.2),
        line(redMaB, "#f08aa0", 5, 3, 0, 0.2), line(redMaB, "#d81e4b", 3.5, 3.1, 0, 0.2),
        line(redMaC, "#f08aa0", 5, 3, 0), line(redMaC, "#d81e4b", 3.5, 3.1, 0),
        line(blueMaA, "#8c9cff", 6, 3, 0, 0.25), line(blueMaA, "#0000f0", 4.4, 3.1, 0, 0.25),
        line(blueMaB, "#8c9cff", 6, 3, 0, 0.25), line(blueMaB, "#0000f0", 4.4, 3.1, 0, 0.25),
        line(zigzag, "#ffffff", 2.6, 3.3),
        marks(greyPivots, "circle", 20, "#858585", 3.4),
        bodies(upCandles, "#1ea5f0", 3.5),
        bodies(downCandles, "#e58ae0", 3.5),
        marks(sellSquare, "rect", 43, "#f765ae", 3.6),
        marks(buySquare, "rect", 44, "#18aef0", 3.6),
        marks(sellRound, "circle", 37, "#fff8f4", 3.7, "#8a8078"),
        marks(buyRound, "circle", 37, "#fff8f4", 3.7, "#8a8078"),
        marks([...sellSquare, ...buySquare], "circle", 36, "#ffffff", 3.7),
        marks([...sellRound, ...sellSquare], ARROW_DOWN, [24, 31], "#f765ae", 3.8),
        marks([...buyRound, ...buySquare], ARROW_UP, [24, 31], "#18aef0", 3.8),
        {
          type: "scatter", xAxisIndex: 0, yAxisIndex: 0, z: 4, silent: true, symbolSize: 0, data: pivotText,
          encode: { x: 0, y: 1 },
          label: { show: true, position: "inside", color: "#7f8f80", fontSize: 11, fontFamily: "Liberation Sans", formatter: (p: any) => p.value[2] },
        },
        wicks(upCandles, "#1ea5f0", 5),
        wicks(downCandles, "#e58ae0", 5),
        line([[0, crossPrice], [658, crossPrice]] as P[], "#f5f2e0", 1, 5.3),
        pen(penCircleA), pen(penArrowA), pen(penHeadA, false),
        pen(penCircleB), pen(penArrowB), pen(penHeadB, false),
        pen(penCircleC), pen(penArrowC), pen(penHeadC, false),
        vlines(cyanSignals, "#12e8ee", 2.6, 2, 1),
        vlines(redSignals, "#e81010", 2.6, 2, 1),
        line(stochSignal, "#f0f0f0", 1, 3, 1, 0.3, [2, 2]),
        line(stochMain, "#ff9010", 2, 4, 1, 0.12),
      ],
    });
    return () => chart.dispose();
  }, []);
  return <div ref={ref} style={{ position: "absolute", left: 0, top: 0, width: 1756, height: 985 }} />;
}
